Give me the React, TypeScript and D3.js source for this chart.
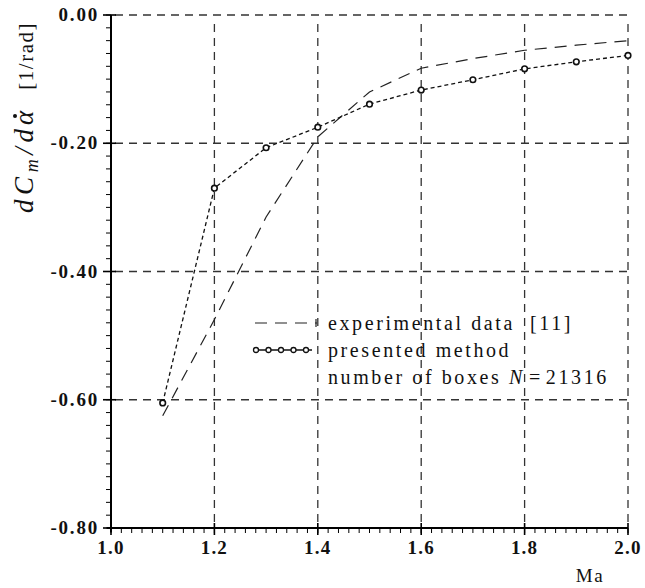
import React from 'react';
import * as d3 from 'd3';

const machNumbers = [1.1, 1.2, 1.3, 1.4, 1.5, 1.6, 1.7, 1.8, 1.9, 2.0];
const presentedMethod = [-0.605, -0.27, -0.207, -0.175, -0.139, -0.117, -0.101, -0.084, -0.073, -0.063];
const experimentalMach = [1.1, 1.2, 1.3, 1.4, 1.5, 1.6, 1.7, 1.8, 1.9, 2.0];
const experimentalData = [-0.625, -0.475, -0.315, -0.19, -0.12, -0.083, -0.068, -0.055, -0.047, -0.04];
const xTicks = [1.0, 1.2, 1.4, 1.6, 1.8, 2.0];
const yTicks = [0, -0.2, -0.4, -0.6, -0.8];
const xTickLabels = ['1.0', '1.2', '1.4', '1.6', '1.8', '2.0'];
const yTickLabels = ['0.00', '-0.20', '-0.40', '-0.60', '-0.80'];
const legendLabels = ['experimental data\u00a0 [11]', 'presented method', 'number of boxes '];

const W = 645;
const H = 588;
const L = 111, R = 628, T = 15, B = 528;

export default function App() {
  const x = d3.scaleLinear().domain([1.0, 2.0]).range([L, R]);
  const y = d3.scaleLinear().domain([-0.8, 0]).range([B, T]);
  const line = d3.line<[number, number]>().x(d => x(d[0])).y(d => y(d[1]));
  const pm = machNumbers.map((m, i) => [m, presentedMethod[i]] as [number, number]);
  const ex = experimentalMach.map((m, i) => [m, experimentalData[i]] as [number, number]);
  const xMinor = d3.range(0, 51).map(i => 1.0 + i * 0.02);
  const yMinor = d3.range(0, 41).map(i => -0.8 + i * 0.02);
  const font = 'Liberation Serif, Times New Roman, DejaVu Serif, serif';
  const grid = '#333';

  return (
    <svg width={W} height={H} style={{ position: 'absolute', left: 0, top: 0, background: '#fff' }}>
      <rect width={W} height={H} fill="#fff" />
      {/* grid */}
      {yTicks.slice(0, 4).map((v, i) => (
        <line key={'gy' + i} x1={L + 4} x2={R} y1={y(v)} y2={y(v)} stroke={grid} strokeWidth={1.3} strokeDasharray="8,6" />
      ))}
      {xTicks.slice(1).map((v, i) => (
        <line key={'gx' + i} x1={x(v)} x2={x(v)} y1={T + 9} y2={B} stroke={grid} strokeWidth={1.3} strokeDasharray="8,6" />
      ))}
      {/* axes */}
      <line x1={L} x2={L} y1={T} y2={B + 4} stroke="#000" strokeWidth={2} />
      <line x1={L - 4} x2={R} y1={B} y2={B} stroke="#000" strokeWidth={2} />
      {xMinor.map((v, i) => (
        <line key={'xm' + i} x1={x(v)} x2={x(v)} y1={B} y2={B + 5} stroke="#000" strokeWidth={1} />
      ))}
      {xTicks.map((v, i) => (
        <line key={'xM' + i} x1={x(v)} x2={x(v)} y1={B - 5} y2={B + 7} stroke="#000" strokeWidth={1.6} />
      ))}
      {yMinor.map((v, i) => (
        <line key={'ym' + i} x1={L - 5} x2={L} y1={y(v)} y2={y(v)} stroke="#000" strokeWidth={1} />
      ))}
      {yTicks.map((v, i) => (
        <line key={'yM' + i} x1={L - 8} x2={L + 5} y1={y(v)} y2={y(v)} stroke="#000" strokeWidth={1.6} />
      ))}
      {/* tick labels */}
      {xTicks.map((v, i) => (
        <text key={'xl' + i} x={x(v)} y={B + 26} textAnchor="middle" fontFamily={font} fontSize={19} fontWeight="bold" letterSpacing={1.2} fill="#111">{xTickLabels[i]}</text>
      ))}
      {yTicks.map((v, i) => (
        <text key={'yl' + i} x={L - 12} y={y(v) + 6} textAnchor="end" fontFamily={font} fontSize={19} fontWeight="bold" letterSpacing={1.8} fill="#111">{yTickLabels[i]}</text>
      ))}
      <text x={590} y={582} textAnchor="middle" fontFamily={font} fontSize={19} fill="#111" letterSpacing={1.5}>Ma</text>
      {/* y title */}
      <g transform="translate(33,213) rotate(-90)">
        <text x={0} y={0} fontFamily={font} fontSize={27} fill="#111" textLength={84} lengthAdjust="spacing">
          <tspan fontStyle="italic">dC</tspan>
          <tspan fontStyle="italic" fontSize={18} dy={5}>m</tspan>
          <tspan fontStyle="italic" dy={-5}>/d</tspan>
        </text>
        <text x={95} y={0} textAnchor="middle" fontFamily={font} fontSize={27} fontStyle="italic" fill="#111">α</text>
        <circle cx={97} cy={-18} r={2} fill="#111" />
        <text x={191} y={0} textAnchor="end" fontFamily={font} fontSize={21} fill="#111" letterSpacing={1.5}>[1/rad]</text>
      </g>
      {/* series */}
      <path d={line(ex) || ''} fill="none" stroke="#222" strokeWidth={1.2} strokeDasharray="12,8" />
      <path d={line(pm) || ''} fill="none" stroke="#111" strokeWidth={1.3} strokeDasharray="4,3" />
      {pm.map((d, i) => (
        <circle key={'p' + i} cx={x(d[0])} cy={y(d[1])} r={2.8} fill="#fff" stroke="#111" strokeWidth={1.6} />
      ))}
      {/* legend */}
      <line x1={255} x2={317} y1={323} y2={323} stroke="#222" strokeWidth={1.2} strokeDasharray="12,8" />
      <line x1={316} x2={316} y1={319} y2={327} stroke="#222" strokeWidth={1.2} />
      <line x1={253} x2={312} y1={350} y2={350} stroke="#111" strokeWidth={1.5} />
      {[0, 1, 2, 3, 4].map(i => (
        <circle key={'lc' + i} cx={256 + i * 12.5} cy={350} r={2.5} fill="#fff" stroke="#111" strokeWidth={1.3} />
      ))}
      <text x={328} y={330} fontFamily={font} fontSize={20} fill="#111" letterSpacing={2.6}>{legendLabels[0]}</text>
      <text x={328} y={357} fontFamily={font} fontSize={20} fill="#111" letterSpacing={2.6}>{legendLabels[1]}</text>
      <text x={328} y={384} fontFamily={font} fontSize={20} fill="#111" letterSpacing={2.6}>
        {legendLabels[2]}
        <tspan fontStyle="italic">N</tspan>
        <tspan dx={4}>=</tspan>
        <tspan dx={3}>21316</tspan>
      </text>
    </svg>
  );
}
